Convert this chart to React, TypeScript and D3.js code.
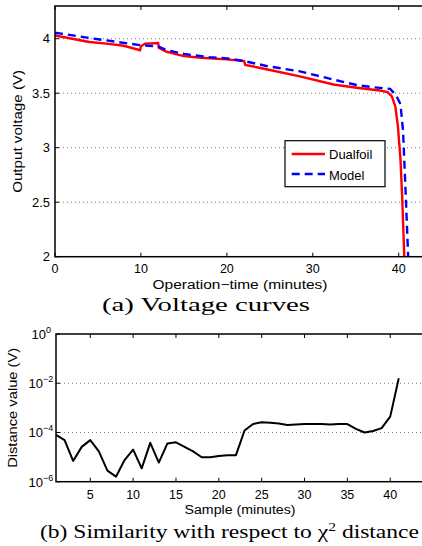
import * as d3 from "d3";
import React from "react";

// (a) voltage curves
const dualfoilTime = [0, 2, 4, 6, 8, 9.9, 10, 10.5, 12, 12.1, 13, 15, 17, 20, 22, 22.15, 24.6, 28.5, 32.4, 35.1, 37.8, 38.7, 39.2, 39.6, 39.9, 40.2, 40.4, 40.65];
const dualfoilVolt = [4.03, 4.0, 3.97, 3.955, 3.935, 3.895, 3.93, 3.955, 3.96, 3.915, 3.88, 3.84, 3.825, 3.81, 3.795, 3.76, 3.72, 3.655, 3.58, 3.55, 3.525, 3.51, 3.47, 3.38, 3.2, 2.9, 2.55, 2.0];
const modelTime = [0, 5, 10, 12, 13, 15, 18, 20, 22, 24.6, 28.5, 32.4, 35.1, 37, 39, 39.7, 40.2, 40.5, 40.8, 41.1];
const modelVolt = [4.055, 3.995, 3.94, 3.93, 3.895, 3.86, 3.83, 3.82, 3.795, 3.75, 3.7, 3.625, 3.575, 3.555, 3.54, 3.48, 3.4, 3.16, 2.6, 2.0];
const voltTicks = [2, 2.5, 3, 3.5, 4];
const timeTicks = [0, 10, 20, 30, 40];

// (b) chi-square distance per sample
const samples = d3.range(1, 42);
const distances = [
  8e-5, 4.9e-5, 7e-6, 2.6e-5, 4.9e-5, 1.7e-5, 2.8e-6, 1.6e-6, 7.6e-6, 2e-5,
  3.5e-6, 3.8e-5, 6e-6, 3.6e-5, 4e-5, 2.6e-5, 1.7e-5, 9.8e-6, 9.8e-6, 1.1e-5,
  1.2e-5, 1.2e-5, 1.2e-4, 2.2e-4, 2.6e-4, 2.5e-4, 2.3e-4, 2e-4, 2.1e-4, 2.2e-4,
  2.2e-4, 2.2e-4, 2.1e-4, 2.2e-4, 2.2e-4, 1.4e-4, 1e-4, 1.15e-4, 1.5e-4, 4.4e-4,
  1.6e-2,
];
const distTicks = [1e-6, 1e-4, 1e-2, 1];
const sampleTicks = [5, 10, 15, 20, 25, 30, 35, 40];

const sans = "'Liberation Sans', Arial, sans-serif";
const serif = "'Liberation Serif', 'Times New Roman', serif";

export default function App() {
  // top panel scales
  const x1 = d3.scaleLinear().domain([0, 43]).range([55, 424.5]);
  const y1 = d3.scaleLinear().domain([2, 4.3]).range([256.7, 6]);
  // bottom panel scales
  const x2 = d3.scaleLinear().domain([1, 44]).range([56, 424.5]);
  const y2 = d3.scaleLog().domain([1e-6, 1]).range([481.7, 334]);

  const line1 = d3
    .line<number>()
    .x((_, i) => x1(dualfoilTime[i]))
    .y((d) => y1(d));
  const line1m = d3
    .line<number>()
    .x((_, i) => x1(modelTime[i]))
    .y((d) => y1(d));
  const line2 = d3
    .line<number>()
    .x((_, i) => x2(samples[i]))
    .y((d) => y2(d));

  const [l1, r1] = x1.range();
  const [b1, t1] = y1.range();
  const [l2, r2] = x2.range();
  const [b2, t2] = y2.range();

  return (
    <div style={{ position: "absolute", left: 0, top: 0 }}>
      <svg width={422} height={546} style={{ display: "block" }}>
        <rect width={422} height={546} fill="#fff" />
        {/* ---- (a) ---- */}
        <defs>
          <clipPath id="clip1">
            <rect x={l1} y={t1} width={r1 - l1} height={b1 - t1} />
          </clipPath>
        </defs>
        {voltTicks
          .filter((v) => v > 2)
          .map((v) => (
            <line key={v} x1={l1} x2={r1} y1={y1(v)} y2={y1(v)} stroke="#777" strokeWidth={1} strokeDasharray="1,3" />
          ))}
        <g clipPath="url(#clip1)" fill="none">
          <path d={line1(dualfoilVolt) || ""} stroke="#ff0000" strokeWidth={2.4} />
          <path d={line1m(modelVolt) || ""} stroke="#0000ff" strokeWidth={2.4} strokeDasharray="8,5" />
        </g>
        <rect x={l1} y={t1} width={r1 - l1} height={b1 - t1} fill="none" stroke="#000" strokeWidth={1.5} />
        {timeTicks.map((t) => (
          <g key={t}>
            <line x1={x1(t)} x2={x1(t)} y1={b1} y2={b1 - 4} stroke="#000" />
            <line x1={x1(t)} x2={x1(t)} y1={t1} y2={t1 + 4} stroke="#000" />
            <text x={x1(t)} y={273} textAnchor="middle" fontFamily={sans} fontSize={12.5}>
              {t}
            </text>
          </g>
        ))}
        {voltTicks.map((v) => (
          <g key={v}>
            <line x1={l1} x2={l1 + 4} y1={y1(v)} y2={y1(v)} stroke="#000" />
            <text x={50} y={y1(v) + 4.5} textAnchor="end" fontFamily={sans} fontSize={13}>
              {v}
            </text>
          </g>
        ))}
        <text x={240} y={289} textAnchor="middle" fontFamily={sans} fontSize={12.5} textLength={175} lengthAdjust="spacingAndGlyphs">
          Operation−time (minutes)
        </text>
        <text
          transform={`translate(22,${(b1 + t1) / 2}) rotate(-90)`}
          textAnchor="middle"
          fontFamily={sans}
          fontSize={13}
          textLength={123}
          lengthAdjust="spacingAndGlyphs"
        >
          Output voltage (V)
        </text>
        <text x={206} y={311} textAnchor="middle" fontFamily={serif} fontSize={18} textLength={208} lengthAdjust="spacingAndGlyphs">
          (a) Voltage curves
        </text>
        {/* legend */}
        <g>
          <rect x={285} y={140.7} width={100} height={46} fill="#fff" stroke="#000" strokeWidth={1.2} />
          <line x1={291.7} x2={325} y1={154} y2={154} stroke="#ff0000" strokeWidth={2.4} />
          <text x={329} y={159} fontFamily={sans} fontSize={13}>
            Dualfoil
          </text>
          <line x1={291.7} x2={325} y1={174} y2={174} stroke="#0000ff" strokeWidth={2.4} strokeDasharray="8,5" />
          <text x={329} y={179.5} fontFamily={sans} fontSize={13}>
            Model
          </text>
        </g>

        {/* ---- (b) ---- */}
        {distTicks
          .filter((v) => v > 1e-6 && v < 1)
          .map((v) => (
            <line key={v} x1={l2} x2={r2} y1={y2(v)} y2={y2(v)} stroke="#777" strokeWidth={1} strokeDasharray="1,3" />
          ))}
        <path d={line2(distances) || ""} fill="none" stroke="#000" strokeWidth={2} strokeLinejoin="round" />
        <rect x={l2} y={t2} width={r2 - l2} height={b2 - t2} fill="none" stroke="#000" strokeWidth={1.5} />
        {sampleTicks.map((s) => (
          <g key={s}>
            <line x1={x2(s)} x2={x2(s)} y1={b2} y2={b2 - 4} stroke="#000" />
            <line x1={x2(s)} x2={x2(s)} y1={t2} y2={t2 + 4} stroke="#000" />
            <text x={x2(s)} y={499} textAnchor="middle" fontFamily={sans} fontSize={12.5}>
              {s}
            </text>
          </g>
        ))}
        {distTicks.map((v) => {
          const e = Math.round(Math.log10(v));
          return (
            <g key={v}>
              <line x1={l2} x2={l2 + 4} y1={y2(v)} y2={y2(v)} stroke="#000" />
              <text x={e < 0 ? 43 : 46} y={y2(v) + 5} textAnchor="end" fontFamily={sans} fontSize={13}>
                10
              </text>
              <text x={e < 0 ? 43 : 46} y={y2(v) - 1} fontFamily={sans} fontSize={9}>
                {e < 0 ? `−${-e}` : e}
              </text>
            </g>
          );
        })}
        <text x={240} y={514} textAnchor="middle" fontFamily={sans} fontSize={12.5} textLength={111} lengthAdjust="spacingAndGlyphs">
          Sample (minutes)
        </text>
        <text
          transform={`translate(17,${(b2 + t2) / 2}) rotate(-90)`}
          textAnchor="middle"
          fontFamily={sans}
          fontSize={13}
          textLength={120}
          lengthAdjust="spacingAndGlyphs"
        >
          Distance value (V)
        </text>
        <text x={229.5} y={538} textAnchor="middle" fontFamily={serif} fontSize={18} textLength={379} lengthAdjust="spacingAndGlyphs">
          (b) Similarity with respect to χ
          <tspan fontSize={12} dy={-7}>2</tspan>
          <tspan dy={7}> distance</tspan>
        </text>
      </svg>
    </div>
  );
}
